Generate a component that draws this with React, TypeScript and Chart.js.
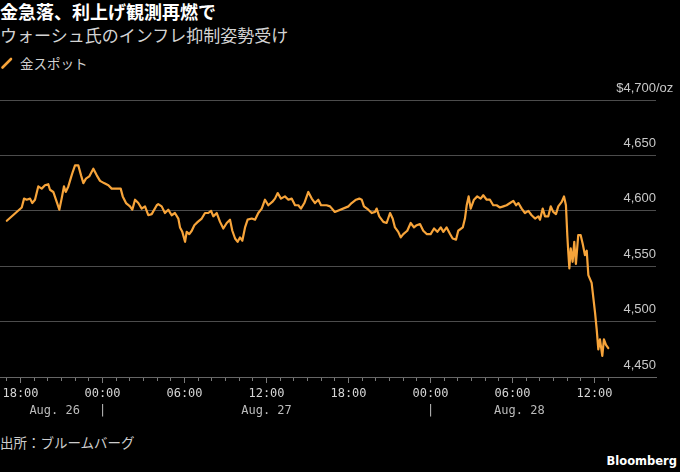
import React, { useEffect, useRef } from 'react';
import { Chart, registerables } from 'chart.js';

Chart.register(...registerables);

// hours counted from Aug. 26 00:00 (x axis), gold spot price in $/oz
const hours: number[] = [
  17.0, 18.09, 18.26, 18.45, 18.7, 18.86, 19.06, 19.3, 19.55, 19.79, 20.03, 20.16, 20.4, 20.65, 20.84,
  21.01, 21.18, 21.31, 21.5, 21.67, 21.82, 21.99, 22.23, 22.43, 22.6, 22.79, 23.03, 23.33, 23.58, 23.82,
  24.11, 24.43, 24.67, 24.92, 25.16, 25.33, 25.48, 25.72, 26.01, 26.18, 26.38, 26.62, 26.87, 27.11, 27.35,
  27.6, 27.97, 28.08, 28.33, 28.57, 28.81, 29.06, 29.3, 29.55, 29.67, 29.84, 30.04, 30.16, 30.35, 30.53,
  30.72, 30.97, 31.26, 31.5, 31.74, 31.94, 32.11, 32.36, 32.6, 32.84, 33.09, 33.33, 33.5, 33.7, 33.89,
  34.06, 34.23, 34.43, 34.62, 34.92, 35.16, 35.4, 35.65, 35.89, 36.13, 36.42, 36.62, 36.82, 37.06, 37.35,
  37.6, 37.84, 38.09, 38.33, 38.52, 38.77, 39.06, 39.31, 39.55, 39.79, 39.99, 40.16, 40.4, 40.65, 41.0,
  42.0, 42.23, 42.55, 42.79, 42.97, 43.13, 43.45, 43.7, 43.94, 44.06, 44.25, 44.55, 44.79, 45.04, 45.23,
  45.4, 45.64, 45.82, 46.01, 46.3, 46.55, 46.79, 46.99, 47.23, 47.47, 47.72, 48.01, 48.26, 48.5, 48.75,
  48.94, 49.18, 49.43, 49.62, 49.87, 50.03, 50.36, 50.52, 50.65, 50.79, 50.94, 51.18, 51.42, 51.67, 51.86,
  52.11, 52.35, 52.59, 52.84, 53.08, 53.33, 53.57, 53.82, 54.06, 54.26, 54.43, 54.67, 54.91, 55.16, 55.4,
  55.65, 55.89, 56.01, 56.21, 56.38, 56.62, 56.8, 56.98, 57.18, 57.35, 57.6, 57.77, 57.91, 58.01, 58.08,
  58.16, 58.26, 58.4, 58.52, 58.64, 58.81, 58.99, 59.14, 59.3, 59.43, 59.55, 59.79, 60.04, 60.16, 60.28,
  60.4, 60.57, 60.69, 60.84, 61.01,
];

const prices: number[] = [
  4591, 4603, 4611, 4610, 4611, 4607, 4610, 4622, 4620, 4623, 4624, 4619, 4617, 4608, 4601,
  4611, 4622, 4617, 4622, 4629, 4635, 4641, 4641, 4632, 4625, 4629, 4631, 4638, 4632, 4627,
  4625, 4623, 4620, 4620, 4620, 4620, 4613, 4607, 4604, 4601, 4610, 4607, 4602, 4604, 4596,
  4597, 4605, 4606, 4604, 4598, 4601, 4596, 4598, 4593, 4585, 4581, 4572, 4581, 4579, 4582,
  4587, 4590, 4593, 4598, 4598, 4600, 4595, 4598, 4590, 4584, 4589, 4592, 4582, 4575, 4572,
  4576, 4573, 4585, 4592, 4593, 4592, 4598, 4602, 4610, 4605, 4608, 4611, 4616, 4611, 4613,
  4610, 4611, 4605, 4605, 4602, 4607, 4617, 4611, 4607, 4610, 4605, 4605, 4605, 4604, 4599,
  4604, 4607, 4610, 4611, 4610, 4604, 4601, 4598, 4599, 4602, 4595, 4590, 4589, 4598, 4593,
  4585, 4581, 4576, 4579, 4582, 4589, 4585, 4587, 4588, 4582, 4579, 4579, 4584, 4581, 4585,
  4581, 4585, 4579, 4575, 4574, 4582, 4585, 4593, 4605, 4613, 4602, 4610, 4613, 4611, 4614,
  4610, 4610, 4605, 4605, 4603, 4604, 4605, 4607, 4609, 4605, 4607, 4602, 4598, 4600, 4596,
  4593, 4595, 4592, 4602, 4595, 4595, 4604, 4599, 4597, 4604, 4608, 4613, 4605, 4578, 4563,
  4548, 4566, 4554, 4572, 4552, 4578, 4578, 4570, 4560, 4564, 4542, 4535, 4508, 4493, 4475,
  4484, 4469, 4484, 4479, 4476,
];

const priceTicks = [4450, 4500, 4550, 4600, 4650, 4700];
const dayLabels = ['Aug. 26', 'Aug. 27', 'Aug. 28'];
const midnights = [24, 48];
const xMin = 16.5;
const xMax = 64.5;

const GOLD = '#f7a43a';
const MONO = '"DejaVu Sans Mono", monospace';
const CJK = '"Noto Sans CJK JP", sans-serif';

const hourTicks: number[] = [];
for (let h = Math.ceil(hours[0]); h <= Math.floor(hours[hours.length - 1]); h++) hourTicks.push(h);

const pad2 = (n: number) => String(n).padStart(2, '0');

// date row under the time labels, plus the unit next to the top price label
const extras = {
  id: 'extras',
  afterDraw(chart: Chart) {
    const { ctx, chartArea } = chart;
    const xs = chart.scales.x;
    const ys = chart.scales.y;
    const edges = [hours[0], ...midnights, hours[hours.length - 1]];
    const rowY = xs.top + 34;

    ctx.save();
    ctx.font = `12px ${MONO}`;
    ctx.fillStyle = '#bcbcbc';
    ctx.textAlign = 'center';
    ctx.textBaseline = 'middle';
    dayLabels.forEach((label, i) => {
      ctx.fillText(label, xs.getPixelForValue((edges[i] + edges[i + 1]) / 2), rowY);
    });
    midnights.forEach((m) => ctx.fillText('|', xs.getPixelForValue(m), rowY));

    ctx.font = '13px "Liberation Sans", sans-serif';
    ctx.fillStyle = '#c8c8c8';
    ctx.textAlign = 'left';
    ctx.fillText('/oz', chartArea.right, ys.getPixelForValue(priceTicks[priceTicks.length - 1]) - 12);
    ctx.restore();
  },
};

const GoldChart: React.FC = () => {
  const canvasRef = useRef<HTMLCanvasElement | null>(null);
  const chartRef = useRef<Chart | null>(null);

  useEffect(() => {
    if (!canvasRef.current) return;
    if (chartRef.current) chartRef.current.destroy();

    chartRef.current = new Chart(canvasRef.current, {
      type: 'line',
      data: {
        datasets: [
          {
            label: '金スポット',
            data: hours.map((h, i) => ({ x: h, y: prices[i] })),
            borderColor: GOLD,
            borderWidth: 2.2,
            pointRadius: 0,
            tension: 0,
            borderJoinStyle: 'round',
            borderCapStyle: 'round',
          },
        ],
      },
      options: {
        animation: false,
        responsive: true,
        maintainAspectRatio: false,
        layout: { padding: { left: 0, right: 24, top: 20, bottom: 0 } },
        plugins: {
          legend: { display: false },
          tooltip: { enabled: false },
        },
        scales: {
          x: {
            type: 'linear',
            min: xMin,
            max: xMax,
            afterBuildTicks: (scale) => {
              scale.ticks = hourTicks.map((value) => ({ value }));
            },
            afterFit: (scale) => {
              scale.height = 48;
            },
            grid: {
              drawOnChartArea: false,
              tickLength: 6,
              tickColor: '#7a7a7a',
              tickBorderDash: (c: any) => (c.tick && c.tick.value % 6 === 0 ? [] : [3, 10]),
            },
            border: { color: '#666666', width: 1 },
            ticks: {
              autoSkip: false,
              maxRotation: 0,
              padding: 4,
              color: '#d6d6d6',
              font: { family: MONO, size: 12 },
              callback: (v) => {
                const h = Number(v);
                return h % 6 === 0 ? `${pad2(h % 24)}:00` : '';
              },
            },
          },
          y: {
            position: 'right',
            min: priceTicks[0],
            max: priceTicks[priceTicks.length - 1],
            afterBuildTicks: (scale) => {
              scale.ticks = priceTicks.map((value) => ({ value }));
            },
            grid: { color: '#4c4c4c', lineWidth: 1, drawTicks: false },
            border: { display: false },
            ticks: {
              mirror: true,
              padding: 0,
              labelOffset: -12,
              autoSkip: false,
              color: '#c8c8c8',
              font: { family: '"Liberation Sans", sans-serif', size: 13 },
              callback: (v) => {
                const n = Number(v);
                const s = n.toLocaleString('en-US');
                return n === priceTicks[priceTicks.length - 1] ? `$${s}` : s;
              },
            },
          },
        },
      },
      plugins: [extras],
    });

    return () => {
      if (chartRef.current) {
        chartRef.current.destroy();
        chartRef.current = null;
      }
    };
  }, []);

  return (
    <div style={{ position: 'absolute', left: 0, top: 80, width: 680, height: 345 }}>
      <canvas ref={canvasRef} />
    </div>
  );
};

const App: React.FC = () => {
  return (
    <div style={{ position: 'relative', width: 680, height: 472, background: '#000', overflow: 'hidden' }}>
      <style>{'body{margin:0;background:#000;}'}</style>
      <div style={{ position: 'absolute', left: 0, top: 0, lineHeight: '22px', fontSize: 18, fontWeight: 700, color: '#ffffff', fontFamily: CJK, whiteSpace: 'nowrap' }}>
        金急落、利上げ観測再燃で
      </div>
      <div style={{ position: 'absolute', left: 0, top: 23.5, lineHeight: '22px', fontSize: 17, color: '#d4d4d4', fontFamily: CJK, whiteSpace: 'nowrap' }}>
        ウォーシュ氏のインフレ抑制姿勢受け
      </div>
      <svg width={14} height={14} style={{ position: 'absolute', left: 0, top: 56 }}>
        <line x1={2.5} y1={11.5} x2={11} y2={3} stroke={GOLD} strokeWidth={2.6} strokeLinecap="round" />
      </svg>
      <div style={{ position: 'absolute', left: 20, top: 53.5, lineHeight: '18px', fontSize: 13.5, color: '#d0d0d0', fontFamily: CJK, whiteSpace: 'nowrap' }}>
        金スポット
      </div>
      <GoldChart />
      <div style={{ position: 'absolute', left: 0, top: 432.7, lineHeight: '18px', fontSize: 13.5, color: '#cccccc', fontFamily: CJK, whiteSpace: 'nowrap' }}>
        出所：ブルームバーグ
      </div>
      <div style={{ position: 'absolute', right: 3, top: 454, lineHeight: '14px', fontSize: 11.5, fontWeight: 700, color: '#ffffff', fontFamily: '"DejaVu Sans", sans-serif', whiteSpace: 'nowrap' }}>
        Bloomberg
      </div>
    </div>
  );
};

export default App;
